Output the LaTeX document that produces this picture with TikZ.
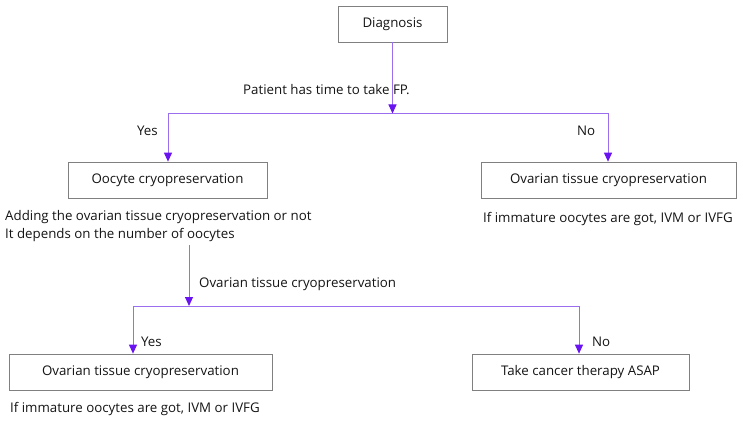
\documentclass[tikz,border=0pt]{standalone}
\usepackage{fontspec}
\setmainfont{Open Sans}
\usetikzlibrary{arrows.meta}
\definecolor{linec}{RGB}{155,110,240}
\definecolor{arrc}{RGB}{105,20,240}
\definecolor{boxc}{RGB}{128,128,128}
\definecolor{txtc}{RGB}{20,20,20}
\tikzset{
  box/.style={draw=boxc, line width=0.7pt, minimum height=36pt, inner sep=0pt, font=\fontsize{13.3}{15}\selectfont, text=txtc},
  lbl/.style={inner sep=0pt, anchor=base west, font=\fontsize{13.3}{15}\selectfont, text=txtc},
  conn/.style={draw=linec, line width=1pt},
  arr/.style={conn, -{Triangle[length=9pt,width=8pt,fill=arrc,color=arrc]}}
}
\begin{document}
\begin{tikzpicture}[x=1pt,y=-1pt]
\useasboundingbox (0,0) rectangle (743,422);
\node[box, minimum width=109pt] (diag) at (392.5,24) {Diagnosis};
\node[box, minimum width=199pt] (oocyte) at (167.5,180) {Oocyte cryopreservation};
\node[box, minimum width=255pt] (ovr) at (608.5,180) {Ovarian tissue cryopreservation};
\node[box, minimum width=263pt] (ovl) at (140.5,372) {Ovarian tissue cryopreservation};
\node[box, minimum width=217pt] (take) at (580.5,372) {Take cancer therapy ASAP};

\coordinate (j1) at (392.5,113.5);
\coordinate (j1l) at (168,113.5);
\coordinate (j1r) at (608,113.5);
\coordinate (c2) at (189,245);
\coordinate (j2) at (189,306);
\coordinate (j2l) at (133,306);
\coordinate (j2r) at (579,306);

\draw[conn] (j1l) -- (j1r);
\draw[arr] (diag.south) -- (j1);
\draw[arr] (j1l) -- (j1l |- oocyte.north);
\draw[arr] (j1r) -- (j1r |- ovr.north);
\draw[conn] (j2l) -- (j2r);
\draw[arr] (c2) -- (j2);
\draw[arr] (j2l) -- (j2l |- ovl.north);
\draw[arr] (j2r) -- (j2r |- take.north);

\node[lbl] (q1) at (243,95) {Patient has time to take FP.};
\node[lbl] (y1) at (137,136) {Yes};
\node[lbl] (n1) at (577,136) {No};
\node[lbl] (a1) at (5,220) {Adding the ovarian tissue cryopreservation or not};
\node[lbl] (a2) at (5,238) {It depends on the number of oocytes};
\node[lbl] (i1) at (483,222) {If immature oocytes are got, IVM or IVFG};
\node[lbl] (q2) at (199,287) {Ovarian tissue cryopreservation};
\node[lbl] (y2) at (141,346) {Yes};
\node[lbl] (n2) at (592,346) {No};
\node[lbl] (i2) at (10,412) {If immature oocytes are got, IVM or IVFG};
\end{tikzpicture}
\end{document}
